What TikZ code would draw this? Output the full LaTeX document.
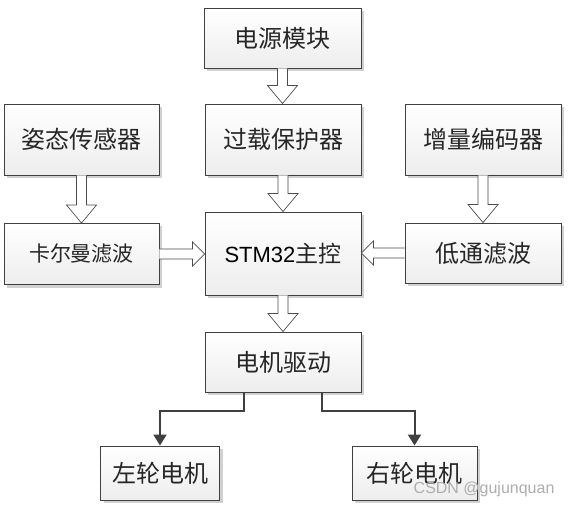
\documentclass[tikz,border=0pt]{standalone}
\usepackage{fontspec}
\newfontfamily\cjk{Noto Sans CJK SC}[Scale=1]
\setmainfont{Liberation Sans}
\usetikzlibrary{calc,shadows,arrows.meta}
\tikzset{
  box/.style={draw=black!75, line width=0.9pt, top color=white, bottom color=black!7,
    drop shadow={shadow xshift=3pt, shadow yshift=-3pt, fill=black!18, opacity=1},
    font=\cjk\fontsize{24}{24}\selectfont, text=black!85, inner sep=0pt},
  hollow/.style={draw=black!70, line width=0.7pt, fill=white},
  conn/.style={draw=black!75, line width=2pt, -{Triangle[length=11pt,width=13pt]}},
}
\begin{document}
\begin{tikzpicture}[x=1pt,y=-1pt]
\useasboundingbox (0,0) rectangle (571,508);
\node[box, minimum width=157, minimum height=60] (pwr) at (282.5,38) {电源模块};
\node[box, minimum width=156, minimum height=71] (prot) at (283,139.5) {过载保护器};
\node[box, minimum width=155, minimum height=71] (att) at (81.5,139.5) {姿态传感器};
\node[box, minimum width=156, minimum height=71] (enc) at (483,139.5) {增量编码器};
\node[box, minimum width=155, minimum height=61, font=\cjk\fontsize{21}{21}\selectfont] (kal) at (81.5,254) {卡尔曼滤波};
\node[box, minimum width=156, minimum height=83, font=\fontsize{22}{22}\selectfont] (stm) at (283,253.5) {\textcolor{black}{STM32}{\cjk\fontsize{23}{23}\selectfont 主控}};
\node[box, minimum width=156, minimum height=60] (lp) at (483,253) {低通滤波};
\node[box, minimum width=156, minimum height=60] (drv) at (283,362) {电机驱动};
\node[box, minimum width=119, minimum height=54] (lm) at (160,473) {左轮电机};
\node[box, minimum width=125, minimum height=54] (rm) at (414.5,473) {右轮电机};
% hollow vertical arrows
\foreach \a/\b in {pwr/prot, prot/stm, att/kal, enc/lp, stm/drv}{
  \draw[hollow] let \p1=(\a.south), \p2=(\b.north) in
    (\x1-5,\y1) -- (\x1-5,\y2+18) -- (\x1-15,\y2+18) -- (\x1,\y2) -- (\x1+15,\y2+18)
    -- (\x1+5,\y2+18) -- (\x1+5,\y1);
}
% hollow horizontal arrows
\draw[hollow] let \p1=(kal.east), \p2=(stm.west) in
  (\x1,\y1+5) -- (\x2-12,\y1+5) -- (\x2-12,\y1+12) -- (\x2,\y1) -- (\x2-12,\y1-12)
  -- (\x2-12,\y1-5) -- (\x1,\y1-5);
\draw[hollow] let \p1=(lp.west), \p2=(stm.east) in
  (\x1,\y1+5) -- (\x2+12,\y1+5) -- (\x2+12,\y1+12) -- (\x2,\y1) -- (\x2+12,\y1-12)
  -- (\x2+12,\y1-5) -- (\x1,\y1-5);
% solid connectors
\coordinate (dl) at ($(drv.south)+(-39,0)$);
\coordinate (dr) at ($(drv.south)+(39,0)$);
\draw[conn] (dl) -- ++(0,19) -| (lm.north);
\draw[conn] (dr) -- ++(0,19) -| (rm.north);
\node[text=black!32, font=\fontsize{16}{16}\selectfont, anchor=east] (wm) at (558,489) {CSDN @gujunquan};
\end{tikzpicture}
\end{document}
